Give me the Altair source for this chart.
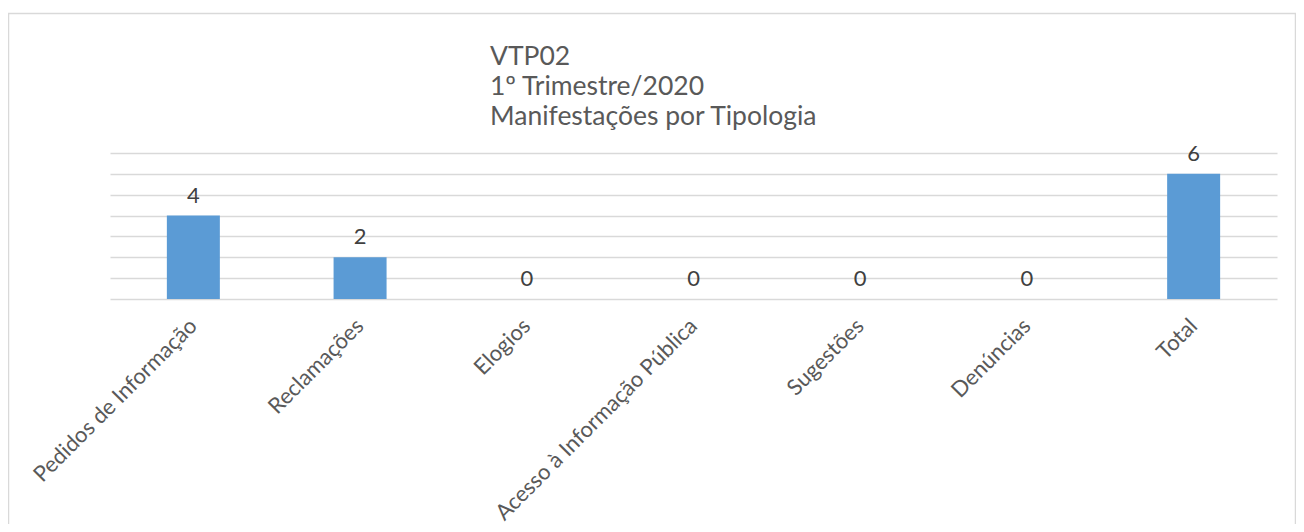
import altair as alt
import pandas as pd

categorias = [
    "Pedidos de Informação",
    "Reclamações",
    "Elogios",
    "Acesso à Informação Pública",
    "Sugestões",
    "Denúncias",
    "Total",
]
valores = [4, 2, 0, 0, 0, 0, 6]
titulo = ["VTP02", "1º Trimestre/2020", "Manifestações por Tipologia"]
grade = [0, 1, 2, 3, 4, 5, 6, 7]

df = pd.DataFrame({"categoria": categorias, "valor": valores})

FONT = "Lato"
W, H = 1167, 146

x = alt.X(
    "categoria:N",
    sort=categorias,
    scale=alt.Scale(paddingInner=0, paddingOuter=0),
    axis=alt.Axis(
        title=None,
        labelAngle=-45,
        labelAlign="right",
        labelBaseline="middle",
        labelFontSize=22,
        labelColor="#595959",
        labelFont=FONT,
        ticks=False,
        domain=False,
        labelPadding=23,
        labelLimit=500,
    ),
)
y = alt.Y(
    "valor:Q",
    scale=alt.Scale(domain=[0, 7], nice=False),
    axis=alt.Axis(
        title=None,
        labels=False,
        ticks=False,
        domain=False,
        values=grade,
        grid=True,
        gridColor="#d9d9d9",
        gridWidth=1.3,
    ),
)

base = alt.Chart(df)
bars = base.mark_bar(size=53, color="#5b9bd5").encode(x=x, y=y)
labels = base.mark_text(
    dy=-13, baseline="alphabetic", fontSize=22, color="#404040", font=FONT
).encode(x=x, y=y, text="valor:Q")

deco = alt.Chart(pd.DataFrame({"a": [0]}))
frame = deco.mark_rect(fillOpacity=0, stroke="#d9d9d9", strokeWidth=1.5).encode(
    x=alt.value(-101.5), x2=alt.value(1185.5), y=alt.value(-139.5), y2=alt.value(420)
)
title = deco.mark_text(
    text=titulo,
    align="left",
    baseline="alphabetic",
    fontSize=26.5,
    lineHeight=30,
    color="#595959",
    font=FONT,
).encode(x=alt.value(380), y=alt.value(-88))

chart = (
    alt.layer(frame, title, bars, labels)
    .properties(
        width=W,
        height=H,
        autosize=alt.AutoSizeParams(type="none"),
        padding={"left": 102, "top": 145, "right": 19, "bottom": 225},
    )
    .configure_view(stroke=None)
)

chart.save("out.html", embed_options={"renderer": "svg", "actions": False})
